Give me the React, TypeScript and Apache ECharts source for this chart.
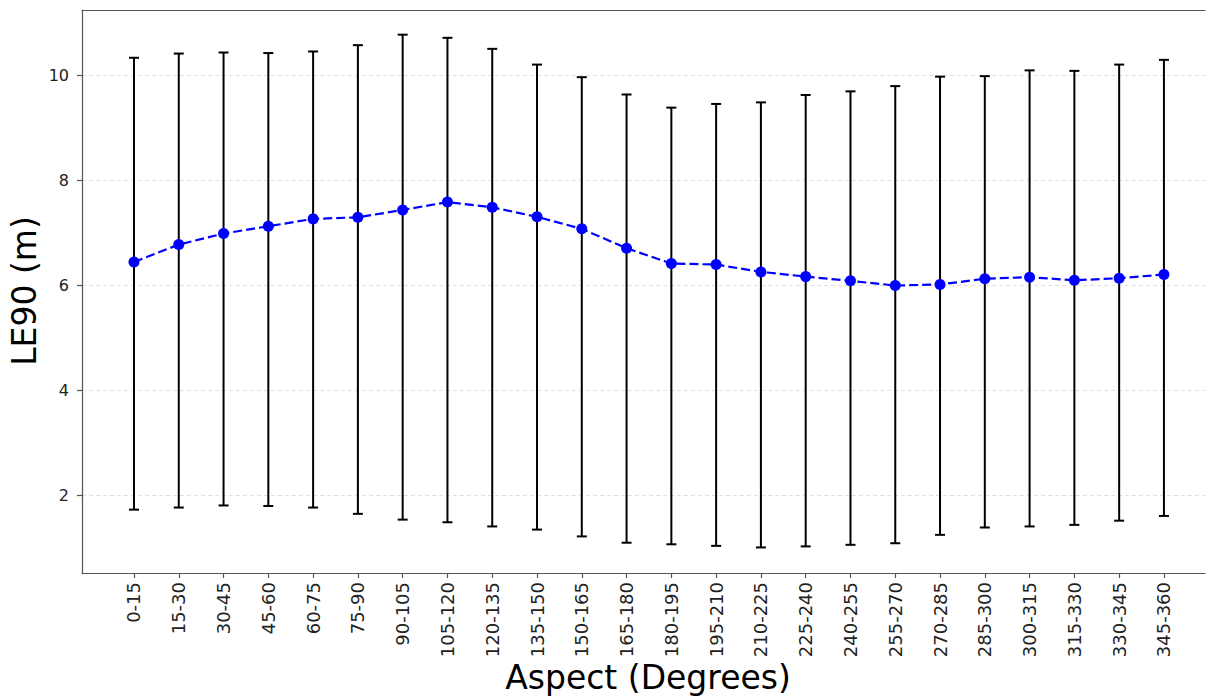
import React, { useEffect, useRef } from "react";
import * as echarts from "echarts";

// Aspect classes (degrees)
const categories: string[] = [
  "0-15", "15-30", "30-45", "45-60", "60-75", "75-90", "90-105", "105-120",
  "120-135", "135-150", "150-165", "165-180", "180-195", "195-210", "210-225",
  "225-240", "240-255", "255-270", "270-285", "285-300", "300-315", "315-330",
  "330-345", "345-360",
];

// Mean LE90 per aspect class (m)
const meanLE90: number[] = [
  6.45, 6.78, 6.99, 7.13, 7.27, 7.30, 7.44, 7.59, 7.49, 7.31, 7.08, 6.71,
  6.42, 6.40, 6.26, 6.17, 6.09, 6.00, 6.02, 6.13, 6.16, 6.10, 6.14, 6.21,
];

// Lower end of error bar (m)
const lowerLE90: number[] = [
  1.73, 1.77, 1.81, 1.80, 1.77, 1.65, 1.54, 1.49, 1.41, 1.35, 1.22, 1.10,
  1.07, 1.04, 1.01, 1.03, 1.06, 1.09, 1.25, 1.39, 1.41, 1.44, 1.52, 1.61,
];

// Upper end of error bar (m)
const upperLE90: number[] = [
  10.34, 10.42, 10.44, 10.43, 10.46, 10.58, 10.78, 10.72, 10.51, 10.21, 9.97,
  9.64, 9.39, 9.46, 9.49, 9.63, 9.70, 9.80, 9.98, 9.99, 10.10, 10.09, 10.21,
  10.30,
];

const yTicks: number[] = [2, 4, 6, 8, 10];

const FONT = "'DejaVu Sans', sans-serif";
const SPINE = { color: "#555555", width: 1.2 };

export default function App() {
  const ref = useRef<HTMLDivElement>(null);

  useEffect(() => {
    if (!ref.current) return;
    const chart = echarts.init(ref.current, null, { renderer: "svg" });

    const idx = categories.map((_, i) => i);
    const meanData = idx.map((i) => [i, meanLE90[i]]);
    const errData = idx.map((i) => [i, lowerLE90[i], upperLE90[i]]);

    chart.setOption({
      animation: false,
      backgroundColor: "#ffffff",
      grid: {
        left: 82,
        top: 10,
        width: 1123,
        height: 563,
      },
      xAxis: [
        {
          type: "value",
          min: -1.161,
          max: 23.917,
          axisLine: { show: true, onZero: false, lineStyle: SPINE },
          axisTick: {
            show: true,
            length: 5,
            customValues: idx,
            lineStyle: SPINE,
          },
          axisLabel: {
            customValues: idx,
            rotate: 90,
            margin: 9,
            fontSize: 18,
            fontFamily: FONT,
            color: "#222222",
            formatter: (v: number) => categories[Math.round(v)] ?? "",
          },
          splitLine: { show: false },
        },
        {
          // top frame line
          type: "value",
          position: "top",
          min: -1.161,
          max: 23.917,
          axisLine: { show: true, onZero: false, lineStyle: SPINE },
          axisTick: { show: false },
          axisLabel: { show: false },
          splitLine: { show: false },
        },
      ],
      yAxis: {
        type: "value",
        min: 0.523,
        max: 11.25,
        axisLine: { show: true, onZero: false, lineStyle: SPINE },
        axisTick: {
          show: true,
          length: 5,
          customValues: yTicks,
          lineStyle: SPINE,
        },
        axisLabel: {
          customValues: yTicks,
          margin: 13,
          fontSize: 16,
          fontFamily: FONT,
          color: "#222222",
        },
        splitLine: {
          show: true,
          lineStyle: { color: "#d8d8d8", type: [4, 3], width: 0.8 },
        },
      },
      graphic: [
        {
          type: "text",
          x: 24,
          y: 291,
          rotation: Math.PI / 2,
          style: {
            text: "LE90 (m)",
            fontSize: 33,
            fontFamily: FONT,
            fill: "#000000",
            align: "center",
            verticalAlign: "middle",
          },
        },
        {
          type: "text",
          x: 648,
          y: 677,
          style: {
            text: "Aspect (Degrees)",
            fontSize: 33,
            fontFamily: FONT,
            fill: "#000000",
            align: "center",
            verticalAlign: "middle",
          },
        },
      ],
      series: [
        {
          type: "custom",
          name: "range",
          z: 2,
          encode: { x: 0, y: [1, 2] },
          data: errData,
          renderItem: (_params: any, api: any) => {
            const i = api.value(0);
            const lo = api.coord([i, api.value(1)]);
            const hi = api.coord([i, api.value(2)]);
            const cap = 5;
            const style = { stroke: "#000000", lineWidth: 2 };
            return {
              type: "group",
              children: [
                { type: "line", shape: { x1: lo[0], y1: lo[1], x2: hi[0], y2: hi[1] }, style },
                { type: "line", shape: { x1: lo[0] - cap, y1: lo[1], x2: lo[0] + cap, y2: lo[1] }, style },
                { type: "line", shape: { x1: hi[0] - cap, y1: hi[1], x2: hi[0] + cap, y2: hi[1] }, style },
              ],
            };
          },
        },
        {
          type: "line",
          name: "mean",
          z: 5,
          data: meanData,
          symbol: "circle",
          symbolSize: 11,
          itemStyle: { color: "#0000ff" },
          lineStyle: { color: "#0000ff", width: 2.2, type: [9, 4] },
        },
      ],
    });

    return () => chart.dispose();
  }, []);

  return (
    <div
      ref={ref}
      style={{ position: "fixed", left: 0, top: 0, width: 1207, height: 696 }}
    />
  );
}
